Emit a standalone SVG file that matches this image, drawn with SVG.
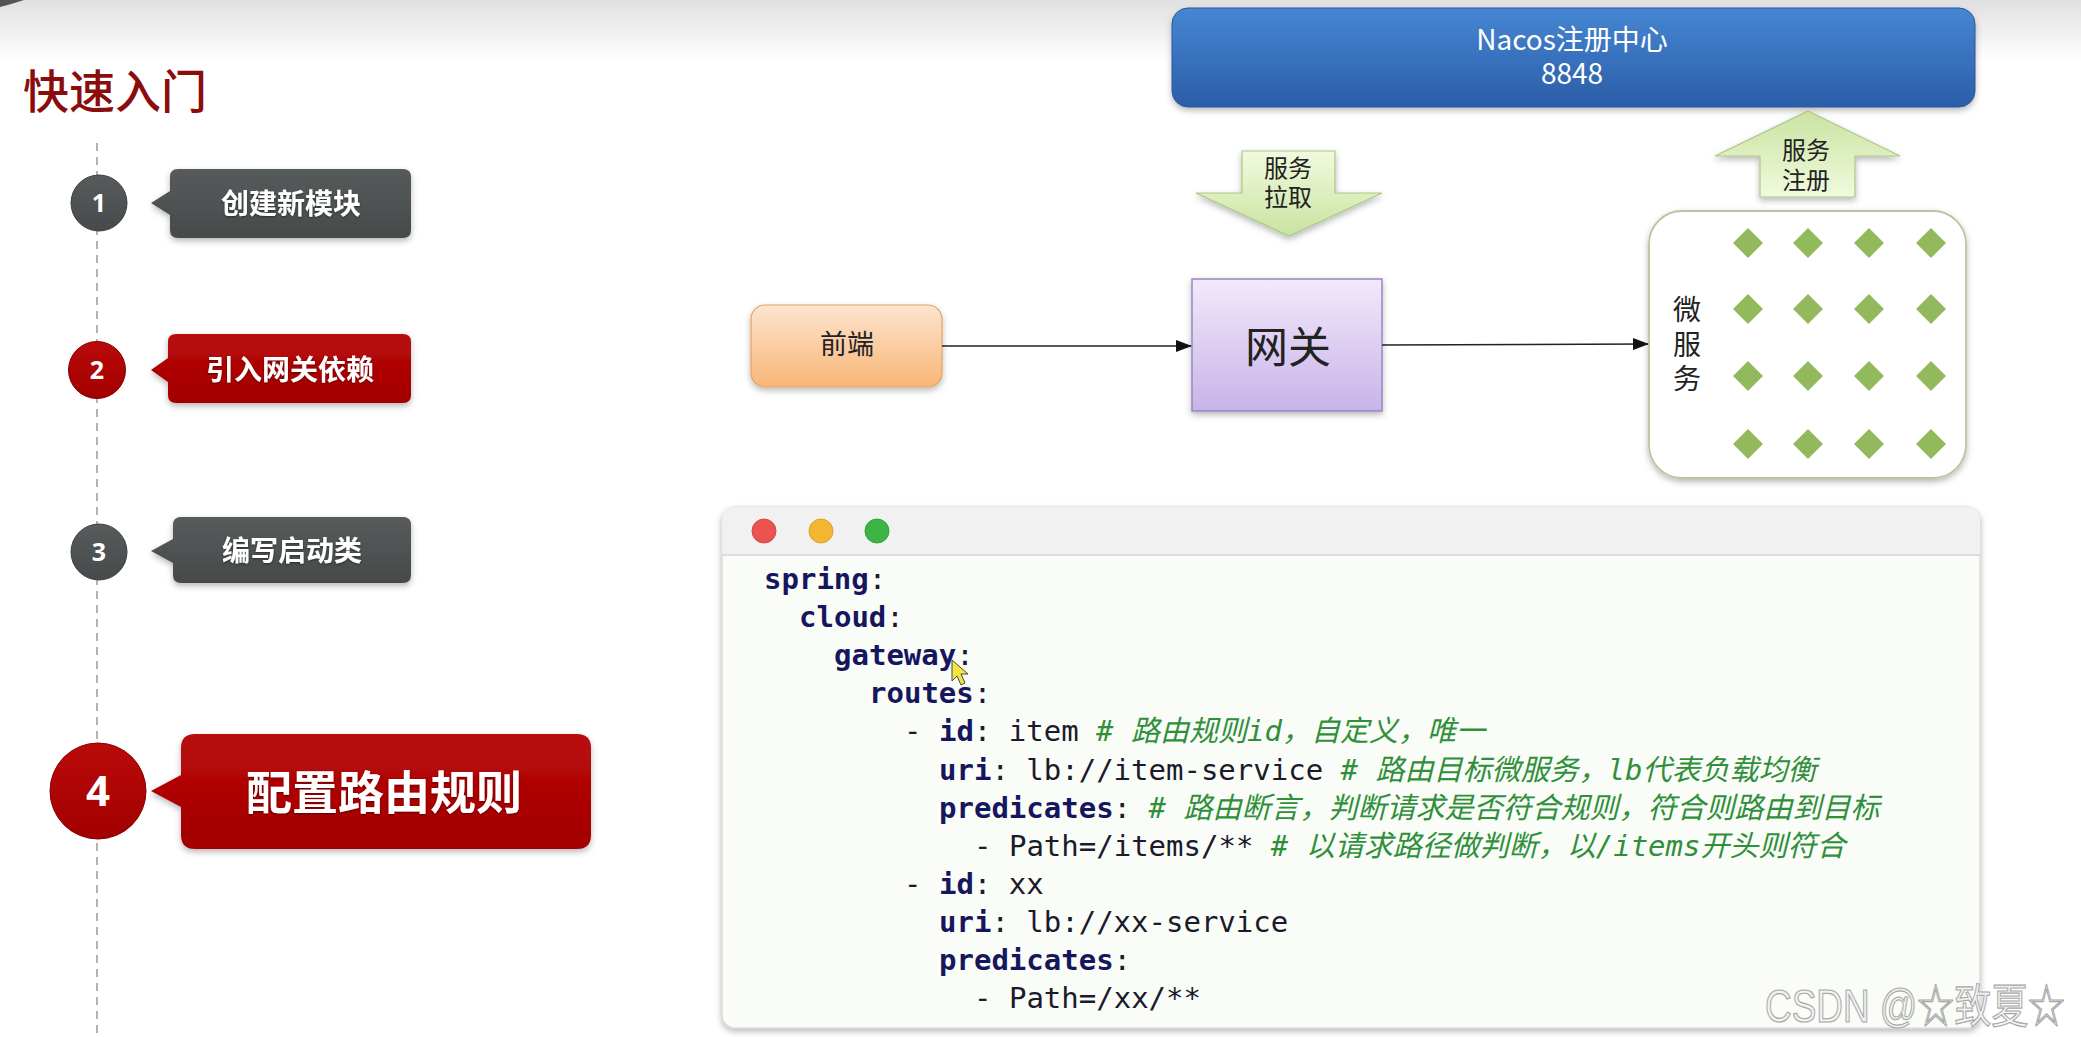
<svg xmlns="http://www.w3.org/2000/svg" width="2081" height="1037" viewBox="0 0 2081 1037">
<defs>
<linearGradient id="topband" x1="0" y1="0" x2="0" y2="1"><stop offset="0" stop-color="#e0e0e0"/><stop offset="1" stop-color="#ffffff"/></linearGradient>
<linearGradient id="gray" x1="0" y1="0" x2="0" y2="1"><stop offset="0" stop-color="#575b5b"/><stop offset="1" stop-color="#464a4a"/></linearGradient>
<linearGradient id="red" x1="0" y1="0" x2="0" y2="1"><stop offset="0" stop-color="#ba0a0a"/><stop offset="1" stop-color="#a20000"/></linearGradient>
<linearGradient id="blue" x1="0" y1="0" x2="0" y2="1"><stop offset="0" stop-color="#4686d2"/><stop offset="1" stop-color="#2b5da8"/></linearGradient>
<linearGradient id="green" x1="0" y1="0" x2="0" y2="1"><stop offset="0" stop-color="#f2fade"/><stop offset="1" stop-color="#c9e3a0"/></linearGradient>
<linearGradient id="greenUp" x1="0" y1="1" x2="0" y2="0"><stop offset="0" stop-color="#f2fade"/><stop offset="1" stop-color="#c9e3a0"/></linearGradient>
<linearGradient id="orange" x1="0" y1="0" x2="0" y2="1"><stop offset="0" stop-color="#fde4cf"/><stop offset="1" stop-color="#f8b677"/></linearGradient>
<linearGradient id="purple" x1="0" y1="0" x2="0" y2="1"><stop offset="0" stop-color="#f3e9fb"/><stop offset="1" stop-color="#c8b3e8"/></linearGradient>
<filter id="sh" x="-10%" y="-10%" width="120%" height="130%"><feDropShadow dx="0" dy="3" stdDeviation="3" flood-color="#000" flood-opacity="0.28"/></filter>
<filter id="tsh" x="-10%" y="-20%" width="120%" height="140%"><feDropShadow dx="0" dy="1" stdDeviation="1" flood-color="#000" flood-opacity="0.45"/></filter>
<marker id="arr" markerWidth="16" markerHeight="12" refX="15" refY="6" orient="auto" markerUnits="userSpaceOnUse"><path d="M0,0 L16,6 L0,12 Z" fill="#111"/></marker>
<style>
.cjk{font-family:"Noto Sans CJK SC","Noto Sans",sans-serif;}
.btxt{font-family:"Noto Sans CJK SC",sans-serif;font-weight:700;fill:#fff;text-anchor:middle;}
.num{font-family:"Open Sans","Noto Sans",sans-serif;font-weight:700;fill:#fff;text-anchor:middle;}
.lbl{font-family:"Noto Sans CJK SC",sans-serif;fill:#222;text-anchor:middle;}
.code{font-family:"DejaVu Sans Mono","Noto Sans CJK SC",monospace;font-size:29px;fill:#1a1a1a;}
.k{font-weight:700;fill:#16165e;}
.p{fill:#1a1a2a;}
.c{font-style:italic;fill:#2f8f3a;}
.dia{fill:#92b95c;}
</style>
</defs>

<rect x="0" y="0" width="2081" height="1037" fill="#ffffff"/>
<rect x="0" y="0" width="2081" height="62" fill="url(#topband)"/>
<path d="M0,0 H24 Q12,4 0,7 Z" fill="#555"/>

<text x="23" y="108" class="cjk" font-size="46" font-weight="500" fill="#8a0c0c">快速入门</text>

<line x1="97" y1="143" x2="97" y2="1037" stroke="#9a9a9a" stroke-width="1.5" stroke-dasharray="8,6"/>

<g id="step1">
<circle cx="99" cy="203" r="28" fill="url(#gray)" stroke="#3c3f3f" stroke-width="1"/>
<text x="99" y="212" class="num" font-size="25">1</text>
<path d="M178,169 H403 Q411,169 411,177 V230 Q411,238 403,238 H178 Q170,238 170,230 V215 L151,203 L170,191 V177 Q170,169 178,169 Z" fill="url(#gray)" filter="url(#sh)"/>
<text x="291" y="214" class="btxt" font-size="28" filter="url(#tsh)">创建新模块</text>
</g>

<g id="step2">
<circle cx="97" cy="370" r="28.5" fill="url(#red)" stroke="#8a0000" stroke-width="1"/>
<text x="97" y="379" class="num" font-size="25">2</text>
<path d="M176,334 H403 Q411,334 411,342 V395 Q411,403 403,403 H176 Q168,403 168,395 V382 L151,370 L168,358 V342 Q168,334 176,334 Z" fill="url(#red)" filter="url(#sh)"/>
<text x="290" y="380" class="btxt" font-size="28" filter="url(#tsh)">引入网关依赖</text>
</g>

<g id="step3">
<circle cx="99" cy="552" r="28" fill="url(#gray)" stroke="#3c3f3f" stroke-width="1"/>
<text x="99" y="561" class="num" font-size="25">3</text>
<path d="M181,517 H403 Q411,517 411,525 V575 Q411,583 403,583 H181 Q173,583 173,575 V563 L151,551 L173,539 V525 Q173,517 181,517 Z" fill="url(#gray)" filter="url(#sh)"/>
<text x="292" y="561" class="btxt" font-size="28" filter="url(#tsh)">编写启动类</text>
</g>

<g id="step4">
<circle cx="98" cy="791" r="48" fill="url(#red)" stroke="#8a0000" stroke-width="1"/>
<text x="98" y="806" class="num" font-size="42">4</text>
<path d="M195,734 H577 Q591,734 591,748 V835 Q591,849 577,849 H195 Q181,849 181,835 V807 L151,791 L181,775 V748 Q181,734 195,734 Z" fill="url(#red)" filter="url(#sh)"/>
<text x="384" y="809" class="btxt" font-size="46" filter="url(#tsh)">配置路由规则</text>
</g>

<g id="nacos">
<rect x="1172" y="8" width="803" height="99" rx="16" fill="url(#blue)" stroke="#2a5699" stroke-width="1" filter="url(#sh)"/>
<text class="cjk" font-size="28" fill="#fff" text-anchor="middle"><tspan x="1572" y="50">Nacos注册中心</tspan><tspan x="1572" y="84">8848</tspan></text>
</g>

<g id="pull">
<polygon points="1242,151 1335,151 1335,193 1382,193 1289,236 1196,193 1242,193" fill="url(#green)" stroke="#aac983" stroke-width="1.2" filter="url(#sh)"/>
<text class="lbl" font-size="24"><tspan x="1288" y="177">服务</tspan><tspan x="1288" y="206">拉取</tspan></text>
</g>

<g id="register">
<polygon points="1808,111 1900,156 1855,156 1855,197 1760,197 1760,156 1715,156" fill="url(#greenUp)" stroke="#aac983" stroke-width="1.2" filter="url(#sh)"/>
<text class="lbl" font-size="24"><tspan x="1806" y="159">服务</tspan><tspan x="1806" y="189">注册</tspan></text>
</g>

<g id="frontend">
<rect x="751" y="305" width="191" height="82" rx="14" fill="url(#orange)" stroke="#e2a466" stroke-width="1.2" filter="url(#sh)"/>
<text x="847" y="354" class="lbl" font-size="27">前端</text>
</g>

<g id="gateway">
<rect x="1192" y="279" width="190" height="132" fill="url(#purple)" stroke="#9a86c0" stroke-width="1.5" filter="url(#sh)"/>
<text x="1288" y="363" class="lbl" font-size="43" fill="#111">网关</text>
</g>

<g id="microservices">
<rect x="1649" y="211" width="317" height="267" rx="33" fill="#ffffff" stroke="#b7c69c" stroke-width="1.8" filter="url(#sh)"/>
<text class="lbl" font-size="28" fill="#333"><tspan x="1687" y="320">微</tspan><tspan x="1687" y="355">服</tspan><tspan x="1687" y="389">务</tspan></text>
<g>
<polygon class="dia" points="1748,228 1763,243 1748,258 1733,243"/>
<polygon class="dia" points="1808,228 1823,243 1808,258 1793,243"/>
<polygon class="dia" points="1869,228 1884,243 1869,258 1854,243"/>
<polygon class="dia" points="1931,228 1946,243 1931,258 1916,243"/>
<polygon class="dia" points="1748,294 1763,309 1748,324 1733,309"/>
<polygon class="dia" points="1808,294 1823,309 1808,324 1793,309"/>
<polygon class="dia" points="1869,294 1884,309 1869,324 1854,309"/>
<polygon class="dia" points="1931,294 1946,309 1931,324 1916,309"/>
<polygon class="dia" points="1748,361 1763,376 1748,391 1733,376"/>
<polygon class="dia" points="1808,361 1823,376 1808,391 1793,376"/>
<polygon class="dia" points="1869,361 1884,376 1869,391 1854,376"/>
<polygon class="dia" points="1931,361 1946,376 1931,391 1916,376"/>
<polygon class="dia" points="1748,429 1763,444 1748,459 1733,444"/>
<polygon class="dia" points="1808,429 1823,444 1808,459 1793,444"/>
<polygon class="dia" points="1869,429 1884,444 1869,459 1854,444"/>
<polygon class="dia" points="1931,429 1946,444 1931,459 1916,444"/>
</g>
</g>

<g id="connectors" fill="none" stroke="#222" stroke-width="1.6">
<line x1="942" y1="346" x2="1191" y2="346" marker-end="url(#arr)"/>
<line x1="1382" y1="345" x2="1648" y2="344" marker-end="url(#arr)"/>
</g>

<g id="code-window">
<rect x="722" y="507" width="1258" height="521" rx="13" fill="#f9fcf7" stroke="#d6d6d6" stroke-width="1.2" filter="url(#sh)"/>
<path d="M735,507 H1967 Q1980,507 1980,520 V555 H722 V520 Q722,507 735,507 Z" fill="#f1f1f1"/>
<line x1="722" y1="555" x2="1980" y2="555" stroke="#d4d4d4" stroke-width="1.5"/>
<circle cx="764" cy="531" r="12" fill="#ea5350" stroke="#d24a47" stroke-width="1"/>
<circle cx="821" cy="531" r="12" fill="#f3b632" stroke="#d9a22c" stroke-width="1"/>
<circle cx="877" cy="531" r="12" fill="#3db542" stroke="#34a039" stroke-width="1"/>
<text class="code" x="764" y="589" xml:space="preserve"><tspan class="k">spring</tspan><tspan class="p">:</tspan></text>
<text class="code" x="799" y="627.1" xml:space="preserve"><tspan class="k">cloud</tspan><tspan class="p">:</tspan></text>
<text class="code" x="834" y="665.2" xml:space="preserve"><tspan class="k">gateway</tspan><tspan class="p">:</tspan></text>
<text class="code" x="869" y="703.3" xml:space="preserve"><tspan class="k">routes</tspan><tspan class="p">:</tspan></text>
<text class="code" x="904" y="741.4" xml:space="preserve"><tspan class="p">- </tspan><tspan class="k">id</tspan><tspan class="p">: item </tspan><tspan class="c"># 路由规则id，自定义，唯一</tspan></text>
<text class="code" x="939" y="779.5" xml:space="preserve"><tspan class="k">uri</tspan><tspan class="p">: lb://item-service </tspan><tspan class="c"># 路由目标微服务，lb代表负载均衡</tspan></text>
<text class="code" x="939" y="817.6" xml:space="preserve"><tspan class="k">predicates</tspan><tspan class="p">: </tspan><tspan class="c"># 路由断言，判断请求是否符合规则，符合则路由到目标</tspan></text>
<text class="code" x="974" y="855.7" xml:space="preserve"><tspan class="p">- Path=/items/** </tspan><tspan class="c"># 以请求路径做判断，以/items开头则符合</tspan></text>
<text class="code" x="904" y="893.8" xml:space="preserve"><tspan class="p">- </tspan><tspan class="k">id</tspan><tspan class="p">: xx</tspan></text>
<text class="code" x="939" y="931.9" xml:space="preserve"><tspan class="k">uri</tspan><tspan class="p">: lb://xx-service</tspan></text>
<text class="code" x="939" y="970" xml:space="preserve"><tspan class="k">predicates</tspan><tspan class="p">:</tspan></text>
<text class="code" x="974" y="1008.1" xml:space="preserve"><tspan class="p">- Path=/xx/**</tspan></text>
<polygon points="952,660 952,681 957,676 961,685 965,683 961,674 968,674" fill="#f4e640" stroke="#444" stroke-width="1"/>
</g>

<text x="1765" y="1022" font-family="Liberation Sans, Noto Sans CJK SC, sans-serif" font-size="46" fill="#f2f2f2" stroke="#a8a8a8" stroke-width="1.2" textLength="300" lengthAdjust="spacingAndGlyphs">CSDN @☆致夏☆</text>
</svg>
